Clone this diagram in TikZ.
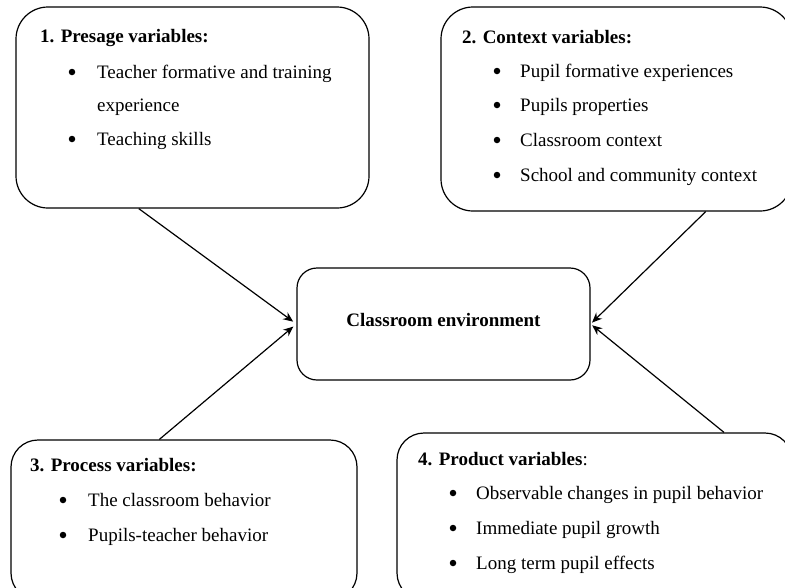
\documentclass[tikz,border=0pt]{standalone}
\usepackage{fontspec}
\setmainfont{Liberation Serif}
\usetikzlibrary{arrows.meta}

\tikzset{
  varbox/.style={draw, line width=1.2pt, rounded corners=#1, inner sep=0pt},
  txt/.style={inner sep=0pt, font=\fontsize{19}{22}\selectfont},
  item/.style={txt, anchor=base west},
  head/.style={item, font=\fontsize{19}{22}\selectfont\bfseries},
  dot/.style={circle, fill, inner sep=0pt, minimum size=6.5pt},
  arr/.style={-{Stealth[length=10pt,width=8.5pt]}, line width=1.2pt},
}

\begin{document}
\begin{tikzpicture}[x=1pt,y=-1pt]
    \useasboundingbox (0,0) rectangle (785,587);
    \clip (0,0) rectangle (785,587);
    % the five boxes
    \node[varbox=32pt, minimum width=353pt, minimum height=201pt] (presage) at (192.5,107.5) {};
    \node[varbox=32pt, minimum width=351pt, minimum height=204pt] (context) at (616.5,109) {};
    \node[varbox=20pt, minimum width=293pt, minimum height=112pt, txt,
          text height=13pt, text depth=8pt,
          font=\fontsize{19}{22}\selectfont\bfseries] (env) at (443.5,324) {Classroom environment};
    \node[varbox=27pt, minimum width=346pt, minimum height=160pt] (process) at (184,520) {};
    \node[varbox=27pt, minimum width=395pt, minimum height=167pt] (product) at (594.5,516.5) {};
    % headings
    \node[head] (presage-h) at (40,42) {1. Presage variables:};
    \node[head] (context-h) at (462,43) {2. Context variables:};
    \node[head] (process-h) at (30,471) {3. Process variables:};
    \node[item] (product-h) at (418,465) {\textbf{4. Product variables}:};
    % bullet lists
    \foreach \y/\t [count=\i] in {78/Teacher formative and training, 145/Teaching skills} {
      \node[dot] (presage-b\i) at (72,\y-6) {};
      \node[item] (presage-\i) at (97,\y) {\t};
    }
    \node[item] (presage-cont) at (97,111) {experience};
    \foreach \y/\t [count=\i] in {77/Pupil formative experiences, 111/Pupils properties,
                                 146/Classroom context, 181/School and community context} {
      \node[dot] (context-b\i) at (497,\y-6) {};
      \node[item] (context-\i) at (520,\y) {\t};
    }
    \foreach \y/\t [count=\i] in {506/The classroom behavior, 541/Pupils-teacher behavior} {
      \node[dot] (process-b\i) at (63,\y-6) {};
      \node[item] (process-\i) at (88,\y) {\t};
    }
    \foreach \y/\t [count=\i] in {499/Observable changes in pupil behavior, 534/Immediate pupil growth,
                                 569/Long term pupil effects} {
      \node[dot] (product-b\i) at (453,\y-6) {};
      \node[item] (product-\i) at (476,\y) {\t};
    }
    % arrows into the middle box
    \draw[arr, shorten >=4pt] (presage.242) -- (env.west);
    \draw[arr, shorten >=4pt] (process.107) -- (env.west);
    \draw[arr, shorten >=2pt] (context.311) -- (env.east);
    \draw[arr, shorten >=2pt] (product.33) -- (env.east);
\end{tikzpicture}
\end{document}
